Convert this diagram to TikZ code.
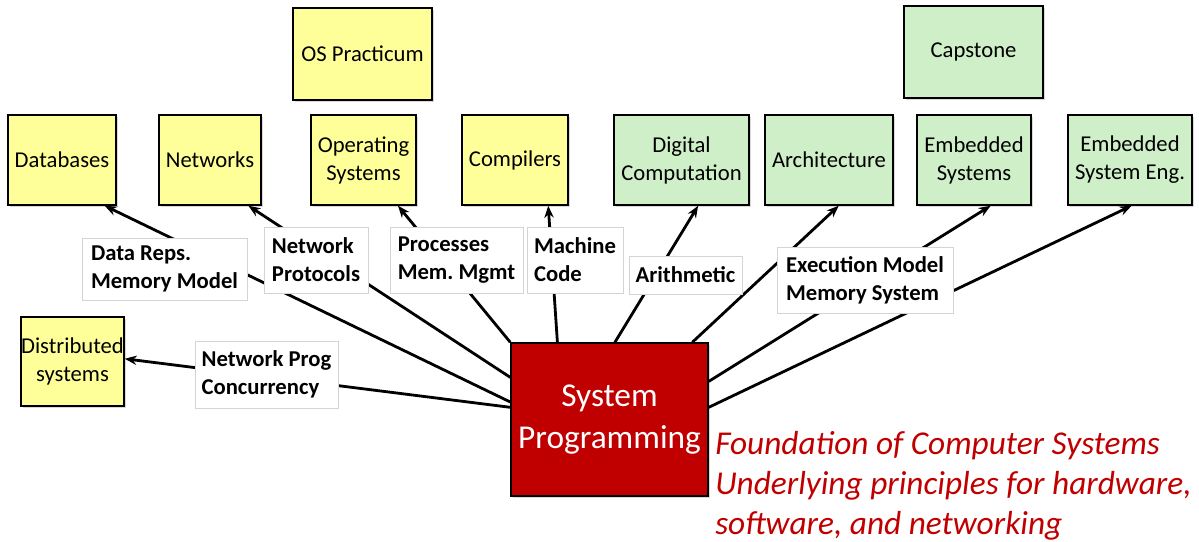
\documentclass[tikz,border=0pt]{standalone}
\usepackage{fontspec}
\setmainfont{Carlito}
\frenchspacing
\usetikzlibrary{arrows.meta,shadows}
\definecolor{spred}{HTML}{C00000}
\definecolor{swyellow}{HTML}{FFFF99}
\definecolor{hwgreen}{HTML}{CFEFC8}
\definecolor{tagedge}{HTML}{D4D4D4}

\tikzset{
  course/.style={draw=black, line width=1.1pt, inner sep=0pt, align=center, minimum height=67.5pt,
    font=\fontsize{17}{21}\selectfont, drop shadow={shadow xshift=1.3pt, shadow yshift=-1.3pt, opacity=0.3}},
  swcourse/.style={course, fill=swyellow},
  hwcourse/.style={course, fill=hwgreen},
  topic/.style={draw=tagedge, line width=0.6pt, fill=white, inner xsep=4.5pt, inner ysep=0pt, align=left,
    minimum height=49.5pt, font=\fontsize{17}{21}\selectfont\bfseries},
  feeds/.style={-{Stealth[length=9pt,width=7pt]}, line width=2.1pt},
}

\begin{document}
\begin{tikzpicture}[x=0.75pt, y=-0.75pt]
  \useasboundingbox (0,0) rectangle (1199,542);

  % courses built on top
  \node[swcourse, minimum width=104.25pt, minimum height=69pt] (ospract) at (362.5,54) {OS Practicum};
  \node[swcourse, minimum width=81pt] (db) at (62,160) {Databases};
  \node[swcourse, minimum width=76.5pt] (net) at (210,160) {Networks};
  \node[swcourse, minimum width=78.75pt] (os) at (363.5,160) {Operating\\Systems};
  \node[swcourse, minimum width=79.5pt] (comp) at (515,160) {Compilers};
  \node[hwcourse, minimum width=101.25pt] (digital) at (681.5,160) {Digital\\Computation};
  \node[hwcourse, minimum width=96pt] (arch) at (829,160) {Architecture};
  \node[hwcourse, minimum width=85.5pt] (embed) at (974,160) {Embedded\\Systems};
  \node[hwcourse, minimum width=93pt] (embeng) at (1130,160) {Embedded\\System Eng.};
  \node[hwcourse, minimum width=104.25pt, minimum height=69pt] (capstone) at (973.5,52) {Capstone};
  \node[swcourse, minimum width=77.25pt, minimum height=66.75pt] (dist) at (72.5,361.5) {Distributed\\systems};

  \node[draw=black, line width=1.1pt, fill=spred, text=white, minimum width=147.75pt, minimum height=114.75pt,
    align=center, font=\fontsize{25}{31}\selectfont,
    drop shadow={shadow xshift=1.3pt, shadow yshift=-1.3pt, opacity=0.3}] (sysprog) at (609.5,419.5) {System\\Programming};

  \draw[feeds] (sysprog.170) -- (db.313);
  \draw[feeds] (sysprog.157) -- (net.310);
  \draw[feeds] (sysprog.north west) -- (os.307);
  \draw[feeds] (sysprog.124) -- (comp.306);
  \draw[feeds] (sysprog.86) -- (digital.290);
  \draw[feeds] (sysprog.43) -- (arch.282);
  \draw[feeds] (sysprog.21) -- (embed.290);
  \draw[feeds] (sysprog.7) -- (embeng.272);
  \draw[feeds] (sysprog.173) -- (dist.3);

  % topics carried along each link
  \node[topic, minimum width=123.75pt, minimum height=46.5pt] (datarep) at (164.5,269) {Data Reps.\\Memory Model};
  \node[topic, minimum width=78pt] (netproto) at (316,260) {Network\\Protocols};
  \node[topic, minimum width=99.75pt] (procmem) at (456.5,260) {Processes\\Mem. Mgmt};
  \node[topic, minimum width=72pt] (mcode) at (575,260) {Machine\\Code};
  \node[topic, minimum width=84.75pt, minimum height=28.5pt] (arith) at (685.5,275) {Arithmetic};
  \node[topic, minimum width=132pt] (execmem) at (865,280) {Execution Model\\Memory System};
  \node[topic, minimum width=107.25pt, minimum height=50.25pt] (netprog) at (266.5,374.5) {Network Prog\\Concurrency};

  \node[anchor=north west, inner sep=0pt, align=left, text=spred, font=\fontsize{25}{30}\selectfont\itshape]
    (foundation) at (715,431) {Foundation of Computer Systems\\Underlying principles for hardware,\\software, and networking};
\end{tikzpicture}
\end{document}
